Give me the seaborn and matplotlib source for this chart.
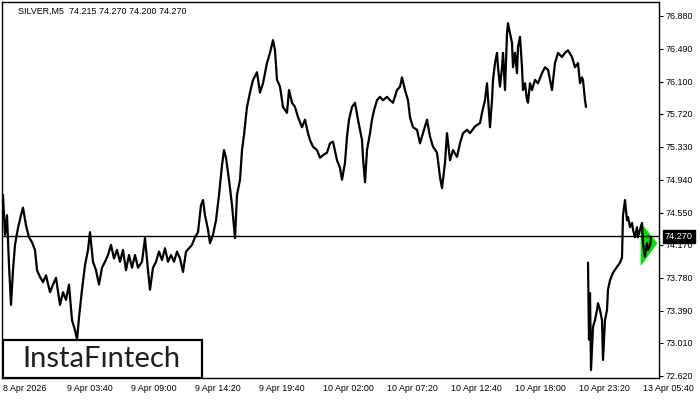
import numpy as np
import pandas as pd
import matplotlib
matplotlib.use("Agg")
import matplotlib.pyplot as plt
import matplotlib.transforms as mtransforms
from matplotlib.patches import Polygon, Rectangle
import seaborn as sns

# SILVER M5, bar index counted from 8 Apr 2026 00:00 (one bar = 5 min)
# Thursday-Friday session (sampled closes)
week_bars = [0, 2, 4, 6, 8, 10, 12, 15, 18, 20, 23, 26, 29, 32, 34, 37, 40, 43, 47, 50,
             53, 57, 60, 63, 66, 69, 72, 74, 76, 79, 82, 85, 87, 90, 93, 96, 99, 102, 105, 108,
             111, 114, 117, 120, 123, 126, 129, 132, 135, 139, 142, 145, 147, 150, 153, 156, 159, 162, 165, 168,
             171, 174, 177, 180, 183, 186, 189, 192, 195, 198, 200, 202, 205, 207, 210, 213, 216, 219, 221, 223,
             226, 229, 232, 234, 237, 239, 241, 244, 247, 250, 254, 257, 260, 264, 267, 270, 272, 274, 277, 280,
             284, 286, 289, 292, 295, 299, 302, 305, 307, 310, 314, 317, 320, 324, 327, 330, 334, 337, 339, 342,
             344, 346, 349, 352, 355, 359, 360, 362, 364, 367, 369, 371, 374, 377, 380, 384, 387, 390, 394, 397,
             399, 402, 405, 407, 410, 414, 417, 420, 424, 427, 430, 434, 437, 439, 442, 444, 447, 450, 454, 457,
             460, 464, 467, 472, 477, 479, 482, 484, 487, 489, 490, 492, 494, 495, 497, 499, 500, 502, 504, 505,
             507, 509, 510, 512, 514, 515, 517, 519, 520, 522, 524, 525, 527, 529, 532, 535, 539, 542, 545, 549,
             552, 555, 559, 562, 565, 569, 572, 575, 577, 579, 580, 582, 583]
week_close = [74.76, 74.29, 74.52, 73.93, 73.46, 73.87, 74.17, 74.37, 74.52, 74.61, 74.40, 74.26, 74.20, 74.11, 73.87, 73.79, 73.73, 73.81, 73.61, 73.70,
              73.78, 73.46, 73.61, 73.52, 73.70, 73.28, 73.16, 73.05, 73.31, 73.64, 73.93, 74.11, 74.32, 73.97, 73.87, 73.70, 73.90, 73.97, 74.05, 74.17,
              74.01, 74.11, 73.97, 74.11, 73.87, 74.05, 73.90, 74.05, 73.90, 73.97, 74.25, 73.87, 73.64, 73.90, 73.97, 74.09, 73.99, 74.13, 73.97, 74.05,
              73.97, 74.09, 74.01, 73.85, 74.09, 74.13, 74.17, 74.26, 74.32, 74.64, 74.70, 74.52, 74.35, 74.19, 74.29, 74.46, 74.76, 75.11, 75.29, 75.20,
              74.94, 74.64, 74.25, 74.76, 74.94, 75.29, 75.47, 75.80, 75.97, 76.12, 76.21, 75.97, 76.08, 76.32, 76.44, 76.59, 76.47, 76.12, 76.04, 75.80,
              75.73, 76.00, 75.85, 75.80, 75.68, 75.56, 75.65, 75.49, 75.41, 75.33, 75.29, 75.20, 75.23, 75.26, 75.37, 75.39, 75.17, 75.08, 74.94, 75.14,
              75.45, 75.65, 75.80, 75.85, 75.65, 75.41, 75.20, 74.91, 75.29, 75.49, 75.65, 75.76, 75.88, 75.92, 75.88, 75.92, 75.88, 75.85, 76.00, 76.04,
              76.15, 76.00, 75.88, 75.68, 75.56, 75.53, 75.37, 75.49, 75.65, 75.45, 75.33, 75.26, 74.97, 74.84, 75.14, 75.49, 75.17, 75.29, 75.21, 75.37,
              75.49, 75.53, 75.49, 75.57, 75.61, 75.73, 75.88, 76.08, 75.56, 75.88, 76.12, 76.32, 76.44, 76.27, 76.04, 76.27, 76.44, 76.00, 76.67, 76.79,
              76.67, 76.56, 76.27, 76.44, 76.20, 76.51, 76.63, 76.27, 76.00, 76.08, 75.88, 75.85, 76.08, 76.00, 76.12, 76.08, 76.20, 76.27, 76.24, 76.00,
              76.32, 76.44, 76.39, 76.44, 76.47, 76.39, 76.27, 76.32, 76.08, 76.15, 76.12, 75.88, 75.80]

# Monday session after the weekend gap
mon_bars = [585, 586, 587, 588, 590, 592, 594, 595, 597, 599, 600, 602, 604, 605, 607, 610, 614, 617, 619,
            620, 622, 624, 625, 627, 629, 630, 632, 634, 635, 637, 639, 640, 642, 644, 645, 647, 648]
mon_close = [73.96, 73.05, 73.60, 72.69, 73.20, 73.28, 73.40, 73.48, 73.40, 73.28, 72.81, 73.28, 73.40, 73.64, 73.75, 73.84, 73.91, 73.96, 74.02,
             74.52, 74.70, 74.46, 74.50, 74.38, 74.43, 74.35, 74.26, 74.38, 74.26, 74.35, 74.43, 74.19, 74.03, 74.19, 74.11, 74.16, 74.25]

current_price = 74.270
header = "SILVER,M5  74.215 74.270 74.200 74.270"

price_ticks = [76.880, 76.490, 76.100, 75.720, 75.330, 74.940, 74.550, 74.170,
               73.780, 73.390, 73.010, 72.620]
time_ticks = [0, 64, 128, 192, 256, 320, 384, 448, 512, 576, 640]
time_labels = ["8 Apr 2026", "9 Apr 03:40", "9 Apr 09:00", "9 Apr 14:20", "9 Apr 19:40",
               "10 Apr 02:00", "10 Apr 07:20", "10 Apr 12:40", "10 Apr 18:00",
               "10 Apr 23:20", "13 Apr 05:40"]

# bearish pennant signal marker
pennant_bars = [638, 638, 654]
pennant_prices = [74.42, 73.93, 74.19]

sns.set_theme(style="white")
plt.rcParams["font.family"] = ["Liberation Sans", "DejaVu Sans"]

fig = plt.figure(figsize=(7, 4), dpi=100)
ax = fig.add_axes([2 / 700, 22 / 400, 657 / 700, 376 / 400])

week = pd.DataFrame({"bar": week_bars, "price": week_close})
mon = pd.DataFrame({"bar": mon_bars, "price": mon_close})

ax.add_patch(Polygon(np.column_stack([pennant_bars, pennant_prices]), closed=True,
                     facecolor="#00e000", edgecolor="#00e000", lw=0.5, zorder=1))
sns.lineplot(data=week, x="bar", y="price", sort=False, estimator=None,
             color="black", lw=1.6, ax=ax, zorder=3)
sns.lineplot(data=mon, x="bar", y="price", sort=False, estimator=None,
             color="black", lw=1.6, ax=ax, zorder=3)
ax.axhline(current_price, color="black", lw=1.0, zorder=2)

ax.set_xlim(-1, 656)
ax.set_ylim(72.596, 77.041)
ax.set_xlabel("")
ax.set_ylabel("")

ax.yaxis.tick_right()
ax.set_yticks(price_ticks)
ax.set_yticklabels([f"{v:.3f}" for v in price_ticks])
ax.set_xticks(time_ticks)
ax.set_xticklabels(time_labels, ha="left")
ax.tick_params(axis="both", direction="out", length=3, width=0.8, colors="black",
               labelsize=6.4, pad=2)
ax.tick_params(axis="x", pad=1.5)
ax.tick_params(axis="y", left=False, right=True)

for s in ax.spines.values():
    s.set_color("black")
    s.set_linewidth(1.0)

ax.text(0.0244, 0.976, header, transform=ax.transAxes, fontsize=6.4,
        va="center", ha="left", color="black")

# current price label on the scale
trans = mtransforms.blended_transform_factory(ax.transAxes, ax.transData)
ax.text(1.0304, current_price, f"{current_price:.3f}", transform=trans,
        ha="center", va="center", fontsize=6.6, color="white", clip_on=False,
        bbox=dict(boxstyle="square,pad=0.22", fc="black", ec="black"))

# logo box
ax.add_patch(Rectangle((0.0015, 0.0), 0.303, 0.101, transform=ax.transAxes,
                       facecolor="white", edgecolor="black", lw=1.6, zorder=5))
ax.text(0.152, 0.0505, "InstaF\u0131ntech", transform=ax.transAxes,
        family=["Lato", "DejaVu Sans"], fontsize=21, color="#1e1e1e",
        ha="center", va="center", zorder=6)

fig.savefig("out.png", dpi=100)
